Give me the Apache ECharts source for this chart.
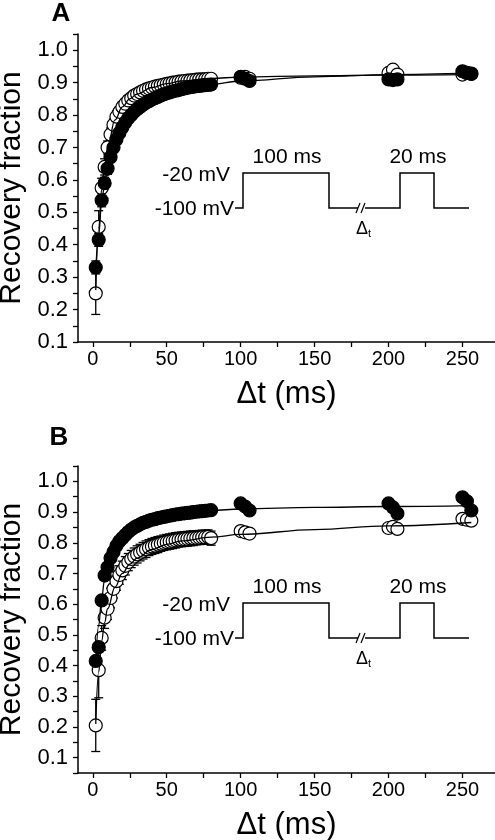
<!DOCTYPE html>
<html><head><meta charset="utf-8">
<script src="https://cdn.jsdelivr.net/npm/echarts@6/dist/echarts.min.js"></script>
<style>html,body{margin:0;padding:0;background:#fff}#c{width:495px;height:840px}</style>
</head><body><div id="c"></div><script>
// time points (ms)
const tPts = [2,4,6,8,10,12,14,16,18,20,22,24,26,28,30,32,34,36,38,40,42,44,46,48,50,52,54,56,58,60,62,64,66,68,70,72,74,76,78,80,100,103,106,200,203,206,250,253,256];
// Panel A
const openA = [0.25,0.455,0.575,0.64,0.70,0.74,0.77,0.795,0.81,0.825,0.835,0.845,0.852,0.86,0.865,0.87,0.875,0.879,0.882,0.885,0.888,0.89,0.892,0.894,0.896,0.898,0.90,0.901,0.903,0.904,0.905,0.906,0.907,0.908,0.909,0.91,0.91,0.911,0.912,0.912,0.915,0.918,0.912,0.93,0.94,0.925,0.925,0.93,0.928];
const openAErr = [0.065,0.05,0.03,0.025,0.02,0.02,0.018,0.018,0.016,0.016,0.015,0.015,0.015,0.015,0.015,0.015,0.015,0.015,0.015,0.015,0.014,0.014,0.014,0.014,0.014,0.014,0.014,0.014,0.014,0.014,0.013,0.013,0.013,0.013,0.013,0.013,0.013,0.013,0.013,0.013,0.008,0.008,0.008,0.008,0.008,0.008,0.008,0.008,0.008];
const filledA = [0.33,0.415,0.537,0.59,0.635,0.67,0.70,0.725,0.745,0.762,0.777,0.79,0.80,0.81,0.818,0.825,0.832,0.838,0.843,0.848,0.852,0.856,0.86,0.864,0.867,0.87,0.873,0.875,0.877,0.88,0.882,0.884,0.886,0.887,0.889,0.89,0.891,0.892,0.893,0.894,0.918,0.912,0.905,0.91,0.908,0.91,0.935,0.93,0.927];
const filledAErr = [0.02,0.02,0.02,0.018,0.018,0.016,0.016,0.015,0.015,0.015,0.014,0.014,0.014,0.014,0.013,0.013,0.013,0.013,0.013,0.012,0.012,0.012,0.012,0.012,0.012,0.012,0.012,0.012,0.012,0.012,0.011,0.011,0.011,0.011,0.011,0.011,0.011,0.011,0.011,0.011,0.006,0.006,0.006,0.006,0.006,0.006,0.006,0.006,0.006];
// Panel B
const openB = [0.205,0.385,0.49,0.556,0.585,0.62,0.65,0.675,0.695,0.71,0.725,0.737,0.747,0.755,0.762,0.768,0.774,0.779,0.784,0.788,0.791,0.794,0.797,0.80,0.802,0.804,0.806,0.808,0.81,0.811,0.812,0.813,0.814,0.815,0.816,0.817,0.818,0.818,0.819,0.815,0.838,0.834,0.83,0.848,0.852,0.845,0.878,0.875,0.872];
const openBErr = [0.085,0.09,0.04,0.035,0.035,0.032,0.03,0.03,0.03,0.03,0.03,0.028,0.028,0.028,0.028,0.027,0.027,0.027,0.026,0.026,0.026,0.026,0.025,0.025,0.025,0.025,0.025,0.025,0.024,0.024,0.024,0.024,0.024,0.024,0.023,0.023,0.023,0.023,0.023,0.023,0.01,0.01,0.01,0.01,0.01,0.01,0.01,0.01,0.01];
const filledB = [0.415,0.46,0.612,0.693,0.72,0.75,0.77,0.79,0.805,0.815,0.825,0.835,0.843,0.85,0.855,0.86,0.865,0.868,0.872,0.875,0.877,0.88,0.882,0.884,0.886,0.888,0.89,0.892,0.893,0.895,0.896,0.897,0.898,0.90,0.901,0.902,0.903,0.904,0.905,0.906,0.928,0.918,0.905,0.928,0.915,0.895,0.948,0.935,0.905];
// fitted curves
const fitT = [2,4,6,8,10,15,20,25,30,40,50,60,80,100,150,200,256];
const fitOpenA = [0.26,0.45,0.57,0.645,0.70,0.785,0.825,0.85,0.865,0.885,0.897,0.905,0.913,0.917,0.921,0.923,0.925];
const fitFilledA = [0.32,0.43,0.53,0.59,0.635,0.715,0.763,0.795,0.818,0.848,0.867,0.88,0.895,0.905,0.918,0.925,0.93];
const fitOpenB = [0.21,0.38,0.48,0.54,0.585,0.655,0.70,0.73,0.75,0.778,0.795,0.806,0.818,0.827,0.843,0.855,0.866];
const fitFilledB = [0.41,0.53,0.62,0.68,0.72,0.785,0.82,0.842,0.858,0.877,0.888,0.895,0.905,0.91,0.915,0.918,0.921];
// ticks
const xTickVals = [0,25,50,75,100,125,150,175,200,225,250];
const xLabelVals = [0,50,100,150,200,250];
const yLabelVals = [0.1,0.2,0.3,0.4,0.5,0.6,0.7,0.8,0.9,1.0];
const yTickValsA = [0.1,0.15,0.2,0.25,0.3,0.35,0.4,0.45,0.5,0.55,0.6,0.65,0.7,0.75,0.8,0.85,0.9,0.95,1.0,1.05];
const yTickValsB = [0.05,0.1,0.15,0.2,0.25,0.3,0.35,0.4,0.45,0.5,0.55,0.6,0.65,0.7,0.75,0.8,0.85,0.9,0.95,1.0,1.05];

const FONT = 'Liberation Sans, Arial, sans-serif';
const pairs = (xs, ys) => xs.map((x, i) => [x, ys[i]]);
const errData = (xs, ys, es) => xs.map((x, i) => [x, ys[i] - es[i], ys[i] + es[i]]);

function xAxis(idx) {
  return {
    gridIndex: idx, type: 'value', min: -10, max: 272,
    name: 'Δt (ms)', nameLocation: 'middle', nameGap: 37,
    nameTextStyle: { fontFamily: FONT, fontSize: 31, color: '#000' },
    axisLine: { onZero: false, lineStyle: { color: '#000', width: 1.5 } },
    axisTick: { show: true, inside: false, length: 5, customValues: xTickVals, lineStyle: { color: '#000', width: 1.3 } },
    axisLabel: { customValues: xLabelVals, fontFamily: FONT, fontSize: 20, color: '#000', margin: 7 },
    splitLine: { show: false }
  };
}
function yAxis(idx, min, ticks) {
  return {
    gridIndex: idx, type: 'value', min: min, max: 1.05,
    name: 'Recovery fraction', nameLocation: 'middle', nameGap: 46, nameRotate: 90,
    nameTextStyle: { fontFamily: FONT, fontSize: 30, color: '#000' },
    axisLine: { onZero: false, lineStyle: { color: '#000', width: 1.5 } },
    axisTick: { show: true, inside: false, length: 5, customValues: ticks, lineStyle: { color: '#000', width: 1.3 } },
    axisLabel: { customValues: yLabelVals, formatter: v => v.toFixed(1), fontFamily: FONT, fontSize: 22, color: '#000', margin: 10 },
    splitLine: { show: false }
  };
}
function errSeries(idx, data) {
  return {
    type: 'custom', xAxisIndex: idx, yAxisIndex: idx, z: 2, data: data, silent: true,
    renderItem: function (params, api) {
      const x = api.value(0);
      const lo = api.coord([x, api.value(1)]);
      const hi = api.coord([x, api.value(2)]);
      const w = 4.5;
      const st = { stroke: '#000', lineWidth: 1.3 };
      return { type: 'group', children: [
        { type: 'line', shape: { x1: lo[0], y1: lo[1], x2: hi[0], y2: hi[1] }, style: st },
        { type: 'line', shape: { x1: lo[0] - w, y1: lo[1], x2: lo[0] + w, y2: lo[1] }, style: st },
        { type: 'line', shape: { x1: hi[0] - w, y1: hi[1], x2: hi[0] + w, y2: hi[1] }, style: st }
      ]};
    }
  };
}
function scat(idx, data, filled, z) {
  return {
    type: 'scatter', xAxisIndex: idx, yAxisIndex: idx, data: data, symbol: 'circle', symbolSize: 13, z: z,
    itemStyle: { color: filled ? '#000' : '#fff', borderColor: '#000', borderWidth: 1.2, opacity: 1 }
  };
}
function fit(idx, data) {
  return {
    type: 'line', xAxisIndex: idx, yAxisIndex: idx, data: data, showSymbol: false, symbol: 'none',
    smooth: 0.4, smoothMonotone: 'x', z: 5, silent: true,
    lineStyle: { color: '#000', width: 1.3 }
  };
}
function protocol(dy) {
  const st = { stroke: '#000', lineWidth: 1.5, fill: null };
  const ts = (x, y, text, align, size) => ({ type: 'text', x: x, y: y + dy, style: { text: text, fontFamily: FONT, fontSize: size || 21, fill: '#000', align: align, verticalAlign: 'middle' } });
  return [
    { type: 'polyline', shape: { points: [[235,208+dy],[243,208+dy],[243,173+dy],[329,173+dy],[329,208+dy],[358,208+dy]] }, style: st },
    { type: 'polyline', shape: { points: [[365,208+dy],[400,208+dy],[400,173+dy],[434,173+dy],[434,208+dy],[469,208+dy]] }, style: st },
    { type: 'line', shape: { x1: 356, y1: 213+dy, x2: 360, y2: 203+dy }, style: { stroke: '#000', lineWidth: 1.2 } },
    { type: 'line', shape: { x1: 361, y1: 213+dy, x2: 365, y2: 203+dy }, style: { stroke: '#000', lineWidth: 1.2 } },
    ts(230, 175, '-20 mV', 'right'),
    ts(234, 209, '-100 mV', 'right'),
    ts(287, 157, '100 ms', 'center'),
    ts(418, 157, '20 ms', 'center'),
    ts(362, 229, 'Δ', 'center', 18),
    ts(368, 234, 't', 'left', 11)
  ];
}

const chart = echarts.init(document.getElementById('c'), null, { renderer: 'canvas' });
chart.setOption({
  animation: false,
  backgroundColor: '#fff',
  grid: [
    { left: 78, top: 34, width: 417, height: 308, containLabel: false, outerBoundsMode: 'none' },
    { left: 78, top: 466, width: 417, height: 307, containLabel: false, outerBoundsMode: 'none' }
  ],
  xAxis: [xAxis(0), xAxis(1)],
  yAxis: [yAxis(0, 0.1, yTickValsA), yAxis(1, 0.05, yTickValsB)],
  graphic: [
    { type: 'text', x: 61, y: 14, style: { text: 'A', fontFamily: FONT, fontWeight: 'bold', fontSize: 26, fill: '#000', align: 'center', verticalAlign: 'middle' } },
    { type: 'text', x: 59, y: 438, style: { text: 'B', fontFamily: FONT, fontWeight: 'bold', fontSize: 26, fill: '#000', align: 'center', verticalAlign: 'middle' } }
  ].concat(protocol(0), protocol(430)),
  series: [
    errSeries(0, errData(tPts, openA, openAErr)),
    scat(0, pairs(tPts, openA), false, 3),
    errSeries(0, errData(tPts, filledA, filledAErr)),
    scat(0, pairs(tPts, filledA), true, 4),
    fit(0, pairs(fitT, fitOpenA)),
    fit(0, pairs(fitT, fitFilledA)),
    errSeries(1, errData(tPts, openB, openBErr)),
    scat(1, pairs(tPts, openB), false, 3),
    scat(1, pairs(tPts, filledB), true, 4),
    fit(1, pairs(fitT, fitOpenB)),
    fit(1, pairs(fitT, fitFilledB))
  ]
});
</script></body></html>
